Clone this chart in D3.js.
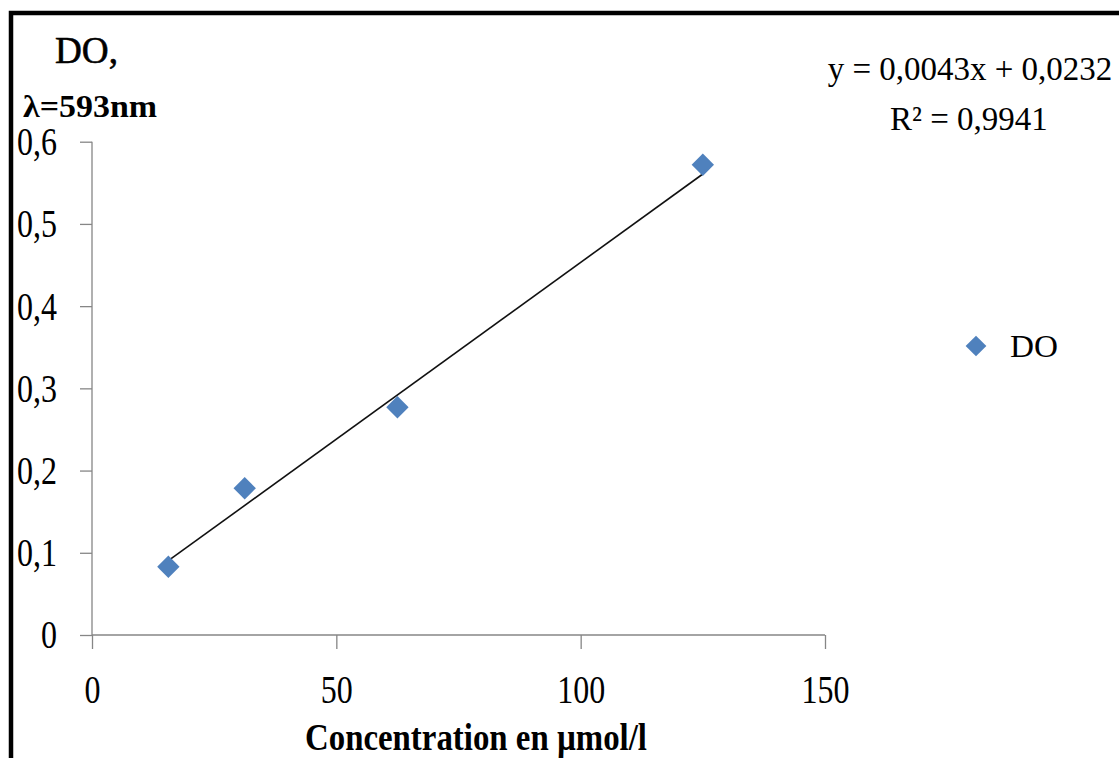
<!DOCTYPE html>
<html>
<head>
<meta charset="utf-8">
<script src="https://cdn.jsdelivr.net/npm/d3@7"></script>
<style>
  html, body { margin: 0; padding: 0; background: #fff; }
  svg { display: block; }
  text { font-family: "Liberation Serif", "Times New Roman", serif; fill: #000; }
</style>
</head>
<body>
<svg id="chart" width="1119" height="758"></svg>
<script>
// Calibration: optical density vs concentration
const concentrations = [15.625, 31.25, 62.5, 125];
const densities = [0.083, 0.1785, 0.277, 0.572];
const xTicks = [0, 50, 100, 150];
const yTicks = [0, 0.1, 0.2, 0.3, 0.4, 0.5, 0.6];
const slope = 0.0043;
const intercept = 0.0232;
const rSquared = 0.9941;
const seriesName = "DO";

const fmtComma = v => String(v).replace(".", ",");

const svg = d3.select("#chart");

// outer frame
svg.append("rect")
  .attr("x", 11).attr("y", 13)
  .attr("width", 1200).attr("height", 800)
  .attr("fill", "none").attr("stroke", "#000").attr("stroke-width", 4.5);

const x = d3.scaleLinear().domain([0, 150]).range([92, 825]);
const y = d3.scaleLinear().domain([0, 0.6]).range([635, 141.7]);
const axisColor = "#868686";

// compress glyphs horizontally, keeping anchor position
function squeeze(sel, k) {
  sel.each(function () {
    const w = this.getComputedTextLength();
    d3.select(this).attr("textLength", w * k).attr("lengthAdjust", "spacingAndGlyphs");
  });
}

// y axis
const gy = svg.append("g")
  .attr("transform", `translate(${x(0)},0)`)
  .call(d3.axisLeft(y).tickValues(yTicks).tickSize(12).tickPadding(23)
    .tickFormat(d => fmtComma(d)));
gy.select(".domain").attr("stroke", axisColor).attr("stroke-width", 1.3)
  .attr("d", `M0,${y(0.6)}V${y(0)}`);
gy.selectAll(".tick line").attr("stroke", axisColor).attr("stroke-width", 1.3);
gy.selectAll(".tick text")
  .attr("font-family", "Liberation Serif, Times New Roman, serif")
  .attr("font-size", 39).attr("fill", "#000").attr("dy", "0.33em")
  .call(squeeze, 0.82);

// x axis
const gx = svg.append("g")
  .attr("transform", `translate(0,${y(0)})`)
  .call(d3.axisBottom(x).tickValues(xTicks).tickSize(14)
    .tickFormat(d => fmtComma(d)));
gx.select(".domain").attr("stroke", axisColor).attr("stroke-width", 1.3)
  .attr("d", `M${x(0)},0H${x(150)}`);
gx.selectAll(".tick line").attr("stroke", axisColor).attr("stroke-width", 1.3);
gx.selectAll(".tick text")
  .attr("font-family", "Liberation Serif, Times New Roman, serif")
  .attr("font-size", 39).attr("fill", "#000")
  .attr("y", 68).attr("dy", 0)
  .call(squeeze, 0.82);

// linear trendline from the stated equation
const xMin = d3.min(concentrations), xMax = d3.max(concentrations);
const line = d3.line().x(d => x(d)).y(d => y(slope * d + intercept));
svg.append("path")
  .datum([xMin, xMax])
  .attr("d", line)
  .attr("fill", "none").attr("stroke", "#111").attr("stroke-width", 1.6);

// data markers
const diamond = d3.symbol(d3.symbolSquare, 250);
svg.append("g").selectAll("path")
  .data(concentrations.map((c, i) => [c, densities[i]]))
  .join("path")
  .attr("d", diamond)
  .attr("transform", d => `translate(${x(d[0])},${y(d[1])}) rotate(45)`)
  .attr("fill", "#4F81BD");

// y axis title
svg.append("text").attr("x", 55).attr("y", 63)
  .attr("font-size", 38).attr("stroke", "#000").attr("stroke-width", 0.6)
  .attr("textLength", 63).attr("lengthAdjust", "spacingAndGlyphs")
  .text("DO,");
svg.append("text").attr("x", 23).attr("y", 117)
  .attr("font-size", 32).attr("font-weight", "bold")
  .attr("textLength", 134).attr("lengthAdjust", "spacingAndGlyphs")
  .text("λ=593nm");

// x axis title
const xt = svg.append("text").attr("x", 476).attr("y", 750)
  .attr("text-anchor", "middle")
  .attr("font-size", 37).attr("font-weight", "bold")
  .text("Concentration en µmol/l");
xt.attr("textLength", 342).attr("lengthAdjust", "spacingAndGlyphs");

// trendline equation
svg.append("text").attr("x", 970).attr("y", 80)
  .attr("text-anchor", "middle").attr("font-size", 33)
  .text(`y = ${fmtComma(slope)}x + ${fmtComma(intercept)}`);
svg.append("text").attr("x", 969).attr("y", 130)
  .attr("text-anchor", "middle").attr("font-size", 33)
  .text(`R² = ${fmtComma(rSquared)}`);

// legend
svg.append("path")
  .attr("d", d3.symbol(d3.symbolSquare, 215))
  .attr("transform", "translate(976,346) rotate(45)")
  .attr("fill", "#4F81BD");
svg.append("text").attr("x", 1010).attr("y", 357)
  .attr("font-size", 32)
  .attr("textLength", 48).attr("lengthAdjust", "spacingAndGlyphs")
  .text(seriesName);
</script>
</body>
</html>
